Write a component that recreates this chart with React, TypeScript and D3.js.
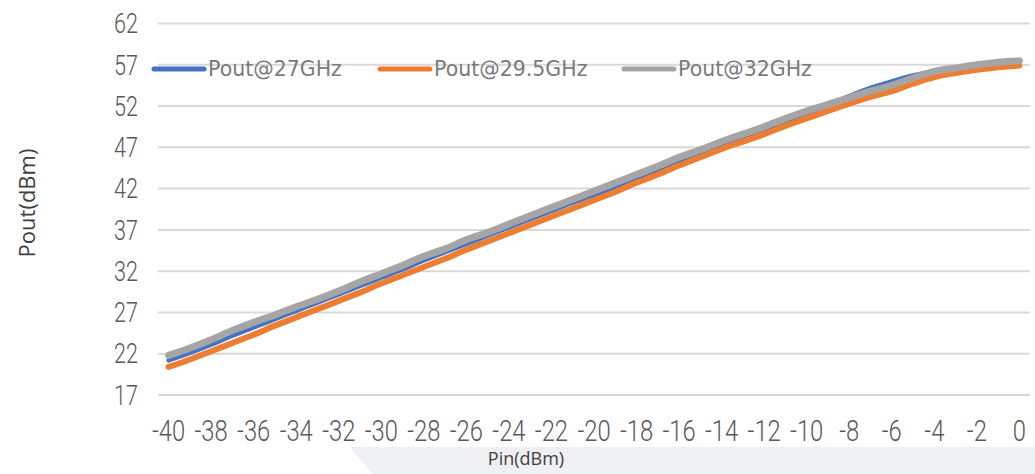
import React from "react";
import * as d3 from "d3";

const pin: number[] = d3.range(-40, 1, 1);
const xTickLabels: number[] = [-40, -38, -36, -34, -32, -30, -28, -26, -24, -22, -20, -18, -16, -14, -12, -10, -8, -6, -4, -2, 0];
const yTickLabels: number[] = [17, 22, 27, 32, 37, 42, 47, 52, 57, 62];

const pout27: number[] = [21.2, 22.1, 23.1, 24.2, 25.2, 26.2, 27.2, 28.2, 29.2, 30.2, 31.2, 32.2, 33.3, 34.3, 35.3, 36.3, 37.3, 38.3, 39.3, 40.3, 41.2, 42.2, 43.2, 44.3, 45.4, 46.4, 47.3, 48.3, 49.2, 50.2, 51.1, 52.1, 53.2, 54.2, 55.0, 55.7, 56.2, 56.5, 56.9, 57.2, 57.4];
const pout295: number[] = [20.4, 21.3, 22.3, 23.3, 24.3, 25.4, 26.4, 27.4, 28.4, 29.4, 30.5, 31.5, 32.5, 33.5, 34.6, 35.6, 36.6, 37.6, 38.6, 39.6, 40.6, 41.6, 42.7, 43.7, 44.8, 45.8, 46.8, 47.7, 48.6, 49.6, 50.5, 51.4, 52.3, 53.1, 53.8, 54.7, 55.5, 56.0, 56.4, 56.7, 56.9];
const pout32: number[] = [21.8, 22.7, 23.7, 24.8, 25.8, 26.7, 27.7, 28.6, 29.6, 30.7, 31.7, 32.7, 33.8, 34.7, 35.8, 36.7, 37.7, 38.7, 39.7, 40.7, 41.7, 42.7, 43.7, 44.7, 45.8, 46.7, 47.7, 48.6, 49.5, 50.5, 51.4, 52.2, 53.0, 53.8, 54.5, 55.4, 56.2, 56.6, 57.0, 57.3, 57.5];

const seriesNames: string[] = ["Pout@27GHz", "Pout@29.5GHz", "Pout@32GHz"];
const seriesColors: string[] = ["#4472C4", "#ED7D31", "#A5A5A5"];
const seriesWidths: number[] = [4.5, 6, 7];
const seriesValues: number[][] = [pout27, pout295, pout32];

const tickFont = "Roboto, 'Liberation Sans', sans-serif";

export default function App() {
  const W = 1035;
  const H = 474;
  const x = d3.scaleLinear().domain([-40, 0]).range([168.6, 1019.4]);
  const y = d3.scaleLinear().domain([17, 62]).range([395, 23.5]);
  const gridX0 = 158;
  const gridX1 = 1030;

  const line = d3
    .line<number>()
    .x((_, i) => x(pin[i]))
    .y((d) => y(d))
    .curve(d3.curveMonotoneX);

  const legendX = [152, 378, 622];
  const legendY = 69;

  return (
    <svg
      width={W}
      height={H}
      style={{ position: "absolute", left: 0, top: 0, background: "#fff" }}
    >
      <polygon points={`350,447 ${W},447 ${W},${H} 373,${H}`} fill="#eef0f4" />
      {yTickLabels.map((v) => (
        <g key={v}>
          <line x1={gridX0} x2={gridX1} y1={y(v)} y2={y(v)} stroke="#d9d9d9" strokeWidth={2} />
          <text
            transform={`translate(138,${y(v)}) scale(0.8,1)`}
            dy="0.36em"
            textAnchor="end"
            fontFamily={tickFont}
            fontWeight={300}
            fontSize={27}
            fill="#595959"
          >
            {v}
          </text>
        </g>
      ))}
      {xTickLabels.map((v) => (
        <text
          key={v}
          transform={`translate(${x(v)},441) scale(0.82,1)`}
          textAnchor="middle"
          fontFamily={tickFont}
          fontWeight={300}
          fontSize={29}
          fill="#595959"
        >
          {v}
        </text>
      ))}
      {seriesValues.map((vals, k) => (
        <path
          key={k}
          d={line(vals) || ""}
          fill="none"
          stroke={seriesColors[k]}
          strokeWidth={seriesWidths[k]}
          strokeLinecap="round"
          strokeLinejoin="round"
        />
      ))}
      {seriesNames.map((name, k) => (
        <g key={name}>
          <line
            x1={legendX[k] + 2}
            x2={legendX[k] + 52}
            y1={legendY}
            y2={legendY}
            stroke={seriesColors[k]}
            strokeWidth={5}
            strokeLinecap="round"
          />
          <text
            x={legendX[k] + 56}
            y={legendY}
            dy="0.36em"
            fontFamily="'DejaVu Sans', sans-serif"
            fontSize={20.5}
            fill="#7a7a7a"
          >
            {name}
          </text>
        </g>
      ))}
      <text
        transform={`translate(27,203) rotate(-90)`}
        textAnchor="middle"
        dy="0.36em"
        fontFamily="'Open Sans', sans-serif"
        fontSize={22}
        fill="#404040"
      >
        Pout(dBm)
      </text>
      <text
        x={526}
        y={459}
        dy="0.36em"
        textAnchor="middle"
        fontFamily="'Open Sans', sans-serif"
        fontSize={18}
        fill="#404040"
      >
        Pin(dBm)
      </text>
    </svg>
  );
}
